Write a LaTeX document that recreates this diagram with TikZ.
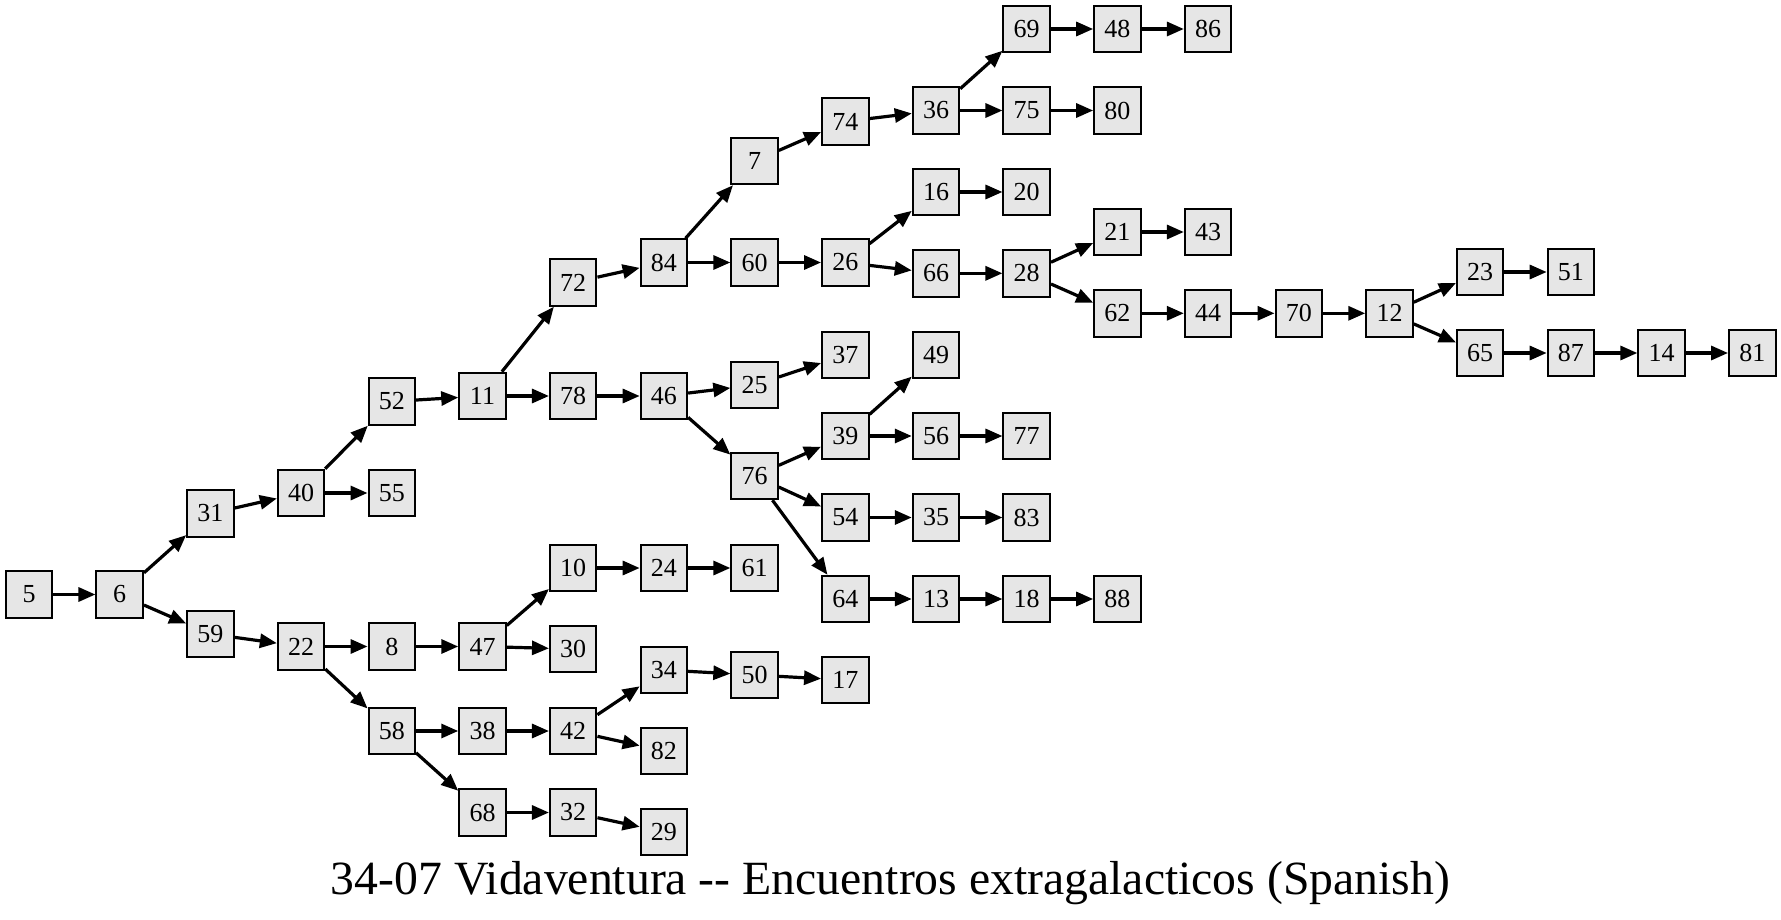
\documentclass[tikz,border=0pt]{standalone}
\usepackage{fontspec}
\setmainfont{Liberation Serif}
\usetikzlibrary{arrows.meta}
\definecolor{nodefill}{RGB}{230,230,230}
\begin{document}
\begin{tikzpicture}[x=1pt,y=-1pt,
  nd/.style={draw=black, fill=nodefill, line width=2pt, minimum width=46.5pt, minimum height=46.5pt, inner sep=0pt, font=\fontsize{26}{26}\selectfont},
  ar/.style={line width=3.2pt, -{Triangle[length=17pt,width=14pt]}},
  ttl/.style={font=\fontsize{47.7}{50}\selectfont, inner sep=0pt}]
\useasboundingbox (0,0) rectangle (1781,920);
\node[nd] (n5) at (29,594.5) {5};
\node[nd] (n6) at (119.7,594.5) {6};
\node[nd] (n31) at (210.4,513.5) {31};
\node[nd] (n59) at (210.4,634) {59};
\node[nd] (n40) at (301.1,493) {40};
\node[nd] (n22) at (301.1,646.5) {22};
\node[nd] (n52) at (391.8,401.5) {52};
\node[nd] (n55) at (391.8,493) {55};
\node[nd] (n8) at (391.8,646.5) {8};
\node[nd] (n58) at (391.8,731) {58};
\node[nd] (n11) at (482.5,396) {11};
\node[nd] (n47) at (482.5,646.5) {47};
\node[nd] (n38) at (482.5,731) {38};
\node[nd] (n68) at (482.5,812.5) {68};
\node[nd] (n72) at (573.2,282.5) {72};
\node[nd] (n78) at (573.2,396) {78};
\node[nd] (n10) at (573.2,568) {10};
\node[nd] (n30) at (573.2,649) {30};
\node[nd] (n42) at (573.2,731) {42};
\node[nd] (n32) at (573.2,812.5) {32};
\node[nd] (n84) at (663.9,262.5) {84};
\node[nd] (n46) at (663.9,396) {46};
\node[nd] (n24) at (663.9,568) {24};
\node[nd] (n34) at (663.9,670) {34};
\node[nd] (n82) at (663.9,751) {82};
\node[nd] (n29) at (663.9,832) {29};
\node[nd] (n7) at (754.6,161) {7};
\node[nd] (n60) at (754.6,262.5) {60};
\node[nd] (n25) at (754.6,385) {25};
\node[nd] (n76) at (754.6,476) {76};
\node[nd] (n61) at (754.6,568) {61};
\node[nd] (n50) at (754.6,675) {50};
\node[nd] (n74) at (845.3,121.5) {74};
\node[nd] (n26) at (845.3,262.5) {26};
\node[nd] (n37) at (845.3,355) {37};
\node[nd] (n39) at (845.3,436) {39};
\node[nd] (n54) at (845.3,517.5) {54};
\node[nd] (n64) at (845.3,599) {64};
\node[nd] (n17) at (845.3,680) {17};
\node[nd] (n36) at (936,110.5) {36};
\node[nd] (n16) at (936,192) {16};
\node[nd] (n66) at (936,273.3) {66};
\node[nd] (n49) at (936,355) {49};
\node[nd] (n56) at (936,436) {56};
\node[nd] (n35) at (936,517.5) {35};
\node[nd] (n13) at (936,599) {13};
\node[nd] (n69) at (1026.7,29) {69};
\node[nd] (n75) at (1026.7,110.5) {75};
\node[nd] (n20) at (1026.7,192) {20};
\node[nd] (n28) at (1026.7,273.3) {28};
\node[nd] (n77) at (1026.7,436) {77};
\node[nd] (n83) at (1026.7,517.5) {83};
\node[nd] (n18) at (1026.7,599) {18};
\node[nd] (n48) at (1117.4,29) {48};
\node[nd] (n80) at (1117.4,110.5) {80};
\node[nd] (n21) at (1117.4,232) {21};
\node[nd] (n62) at (1117.4,313.3) {62};
\node[nd] (n88) at (1117.4,599) {88};
\node[nd] (n86) at (1208.1,29) {86};
\node[nd] (n43) at (1208.1,232) {43};
\node[nd] (n44) at (1208.1,313.3) {44};
\node[nd] (n70) at (1298.8,313.3) {70};
\node[nd] (n12) at (1389.5,313.3) {12};
\node[nd] (n23) at (1480.2,272) {23};
\node[nd] (n65) at (1480.2,353) {65};
\node[nd] (n51) at (1570.9,272) {51};
\node[nd] (n87) at (1570.9,353) {87};
\node[nd] (n14) at (1661.6,353) {14};
\node[nd] (n81) at (1752.3,353) {81};
\node[ttl] (title) at (890.5,883) {34-07 Vidaventura -{}- Encuentros extragalacticos (Spanish)};
\foreach \a/\b in {5/6, 6/31, 6/59, 31/40, 40/52, 40/55, 52/11, 11/72, 11/78, 72/84, 84/7, 84/60, 7/74, 74/36, 36/69, 36/75, 69/48, 48/86, 75/80, 60/26, 26/16, 26/66, 16/20, 66/28, 28/21, 28/62, 21/43, 62/44, 44/70, 70/12, 12/23, 12/65, 23/51, 65/87, 87/14, 14/81, 78/46, 46/25, 46/76, 25/37, 76/39, 76/54, 76/64, 39/49, 39/56, 56/77, 54/35, 35/83, 64/13, 13/18, 18/88, 59/22, 22/8, 22/58, 8/47, 47/10, 47/30, 10/24, 24/61, 58/38, 58/68, 38/42, 42/34, 42/82, 34/50, 50/17, 68/32, 32/29}
  \draw[ar] (n\a) -- (n\b);
\end{tikzpicture}
\end{document}
